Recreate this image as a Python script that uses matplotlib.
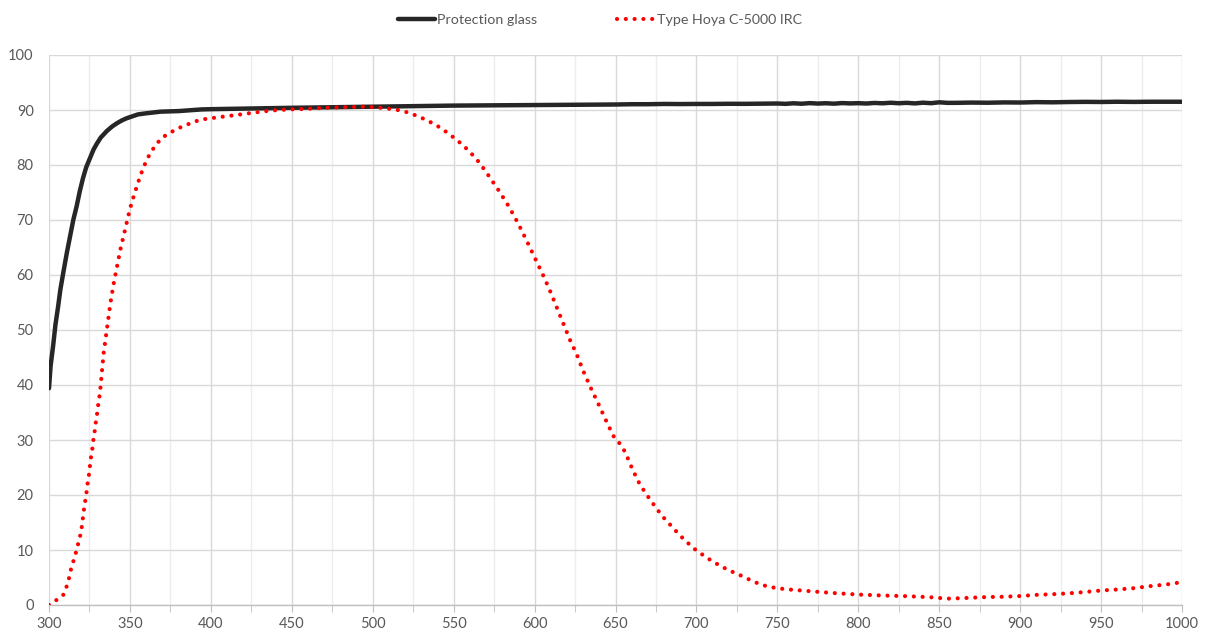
import numpy as np
import matplotlib.pyplot as plt
from matplotlib.ticker import MultipleLocator

# Protection glass transmission (%)
glass_nm = [300, 301, 302.5, 304, 305.6, 307, 308.75, 311, 313, 315, 317, 319, 321, 323, 325.4,
            327.5, 329.6, 332, 335.8, 339, 342, 345, 348, 351, 355, 360, 369, 380, 394, 400,
            450, 500, 550, 600, 650, 660, 670, 680, 690, 700, 710,
            720, 730, 740, 750, 755, 760, 765, 770, 775, 780, 785, 790, 795, 800, 805, 810,
            815, 820, 825, 830, 835, 840, 845, 850, 855, 860, 870, 880, 890, 900, 910, 920,
            930, 940, 950, 960, 970, 980, 990, 1000]
glass_val = [39.4, 43.5, 47, 51, 54.2, 57.3, 60.3, 64, 67, 70, 72.4, 75.2, 77.6, 79.6, 81.3,
             82.8, 83.9, 85, 86.2, 87, 87.6, 88.1, 88.5, 88.8, 89.2, 89.4, 89.7, 89.8, 90.1, 90.15,
             90.4, 90.6, 90.8, 90.9, 91.0, 91.05, 91.05, 91.1, 91.08, 91.1, 91.1,
             91.13, 91.12, 91.15, 91.18, 91.12, 91.22, 91.14, 91.25, 91.17, 91.23, 91.15, 91.26, 91.2, 91.24, 91.18, 91.28,
             91.22, 91.32, 91.23, 91.3, 91.2, 91.33, 91.24, 91.4, 91.3, 91.3, 91.35, 91.32, 91.38, 91.36, 91.43, 91.4,
             91.45, 91.48, 91.46, 91.5, 91.47, 91.5, 91.5, 91.5]

# Hoya C-5000 IRC transmission (%)
hoya_nm = [300, 304.6, 308.75, 310.8, 312.3, 313.5, 315, 316.5, 317.9, 319.2, 320.2, 320.8, 321.5,
           322.3, 323.1, 323.75, 324.6, 325.2, 325.8, 326.7, 327.3, 328.1, 328.75, 329.6, 330.2,
           331, 331.7, 332.7, 333.75, 335.8, 338, 340, 342, 344, 346, 348, 350, 352, 355, 358,
           361, 364, 367, 370, 375, 380, 385, 390, 395, 405, 416, 426, 437, 448, 459, 470, 480,
           492, 497, 503, 508, 514, 520, 525, 530, 535, 540, 545, 550, 555, 560, 566, 572, 578,
           584, 590, 596, 601, 606, 610, 614, 618, 622, 626, 630, 635, 640, 645, 648.8, 652, 656,
           660, 664, 668, 672, 676, 680, 685, 690, 695, 700, 705, 710, 715, 720, 725, 730, 735,
           740, 745, 750, 756, 762, 768, 774, 780, 786, 792, 800, 810, 820, 830, 840, 848, 854,
           860, 870, 880, 890, 900, 910, 920, 930, 940, 950, 960, 970, 980, 990, 1000]
hoya_val = [0, 0.9, 1.8, 3.3, 4.8, 6.4, 7.9, 9.4, 11, 12.5, 14.1, 15.6, 17.2,
            18.7, 20.3, 21.9, 23.5, 25, 26.6, 28.2, 29.8, 31.3, 32.9, 34.5, 36,
            37.6, 39.2, 42.4, 45.8, 50.3, 55, 58.5, 61.5, 64.5, 67, 69.5, 72, 74, 76.8, 79.3,
            81.3, 82.8, 84, 85, 85.9, 86.7, 87.3, 87.9, 88.3, 88.7, 89.1, 89.5, 89.9, 90.1, 90.2, 90.4, 90.5,
            90.6, 90.6, 90.45, 90.3, 90.1, 89.7, 89.2, 88.6, 87.9, 87.1, 86.1, 85.0, 83.8, 82.4, 80.4, 77.9, 75.3,
            72.5, 69.3, 65.7, 62.6, 59.5, 56.8, 53.9, 51, 48.1, 45.6, 42.6, 39.3, 36.2, 33, 30.7, 29.6, 27.8,
            25, 22.5, 20.6, 18.9, 17.3, 15.8, 14.2, 12.6, 11.2, 9.9, 8.9, 7.9, 7.1, 6.3, 5.7, 5.0, 4.3,
            3.7, 3.3, 3.05, 2.85, 2.7, 2.55, 2.42, 2.28, 2.15, 2.05, 1.9, 1.78, 1.7, 1.6, 1.48, 1.35, 1.15,
            1.2, 1.33, 1.45, 1.5, 1.63, 1.84, 1.96, 2.12, 2.36, 2.64, 2.82, 3.05, 3.42, 3.72, 4.15]

plt.rcParams['font.family'] = ['Lato', 'DejaVu Sans']

fig = plt.figure(figsize=(12.07, 6.33), dpi=100)
ax = fig.add_axes([49 / 1207, 1 - 605 / 633, (1182 - 49) / 1207, (605 - 55) / 633])

ax.plot(glass_nm, glass_val, color='#262626', lw=3.2, solid_capstyle='round',
        solid_joinstyle='round', label='Protection glass', zorder=3)
ax.plot(hoya_nm, hoya_val, color='#ff0000', lw=3.0, linestyle=(0, (0.01, 2.1)),
        dash_capstyle='round', label='Type Hoya C-5000 IRC', zorder=4)

ax.set_xlim(300, 1000)
ax.set_ylim(0, 100)
ax.xaxis.set_major_locator(MultipleLocator(50))
ax.xaxis.set_minor_locator(MultipleLocator(25))
ax.yaxis.set_major_locator(MultipleLocator(10))

ax.grid(True, which='major', color='#d9d9d9', lw=1.0, zorder=0)
ax.grid(True, which='minor', axis='x', color='#ededed', lw=1.0, zorder=0)
ax.set_axisbelow(True)

for s in ['top', 'right', 'left']:
    ax.spines[s].set_visible(False)
ax.spines['bottom'].set_color('#bfbfbf')
ax.spines['bottom'].set_linewidth(1.0)

ax.tick_params(axis='x', which='both', direction='out', length=5, color='#bfbfbf',
               labelsize=10.5, labelcolor='#595959', pad=4)
ax.tick_params(axis='x', which='minor', labelbottom=False)
ax.tick_params(axis='y', which='both', length=0, labelsize=10.5, labelcolor='#595959', pad=11)

fig.legend(loc='center', bbox_to_anchor=(0.497, 0.968), ncol=2, frameon=False,
           fontsize=10.3, handlelength=2.6, handletextpad=0.15, columnspacing=5.6,
           labelcolor='#595959')

fig.savefig('out.png', dpi=100)
